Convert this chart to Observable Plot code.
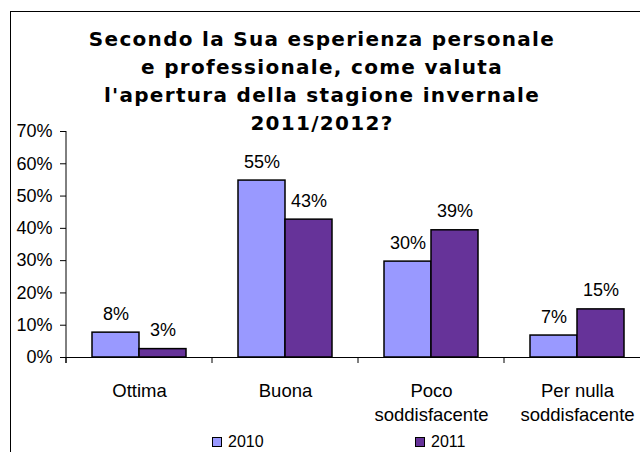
<!DOCTYPE html>
<html><head><meta charset="utf-8">
<script src="https://cdn.jsdelivr.net/npm/d3@7"></script>
<script src="https://cdn.jsdelivr.net/npm/@observablehq/plot@0.6"></script>
<style>
html,body{margin:0;padding:0;background:#fff;overflow:hidden;}
#wrap{position:relative;width:640px;height:452px;overflow:hidden;background:#fff;}
#frame{position:absolute;left:10px;top:11px;width:800px;height:600px;border-top:1.5px solid #000;border-left:1.5px solid #000;pointer-events:none;z-index:3;}
#title{position:absolute;left:0;width:644px;top:25px;text-align:center;font-family:"DejaVu Sans",sans-serif;font-weight:bold;font-size:20px;letter-spacing:1.3px;line-height:28px;color:#000;z-index:2;white-space:pre;}
#chart{position:absolute;left:0;top:0;}
.leg{position:absolute;top:433px;font-family:"Liberation Sans",Arial,sans-serif;font-size:16px;color:#000;display:flex;align-items:center;}
.leg span.sw{display:inline-block;width:8px;height:8px;border:1px solid #000;margin-right:6px;}
</style>
</head><body>
<div id="wrap">
  <div id="frame"></div>
  <div id="title"></div>
  <div id="chart"></div>
</div>
<script>
const titleLines = ["Secondo la Sua esperienza personale", "e professionale, come valuta", "l'apertura della stagione invernale", "2011/2012?"];
const categories = ["Ottima", "Buona", "Poco\nsoddisfacente", "Per nulla\nsoddisfacente"];
const years = ["2010", "2011"];
const values2010 = [0.077, 0.548, 0.297, 0.068];
const values2011 = [0.026, 0.427, 0.394, 0.149];
const yTicks = [0, 0.1, 0.2, 0.3, 0.4, 0.5, 0.6, 0.7];
const colors = ["#9999FF", "#663399"];

document.getElementById("title").textContent = titleLines.join("\n");

const data = [];
categories.forEach((c, i) => {
  data.push({category: c, year: years[0], value: values2010[i]});
  data.push({category: c, year: years[1], value: values2011[i]});
});

const pct = d3.format(".0%");
const font = '"Liberation Sans", Arial, sans-serif';

const plot = Plot.plot({
  width: 640,
  height: 452,
  marginTop: 131,
  marginBottom: 95,
  marginLeft: 66,
  marginRight: -10,
  style: {background: "transparent", fontFamily: font, color: "#000", overflow: "hidden"},
  fx: {domain: categories, paddingInner: 0, paddingOuter: 0, axis: null, label: null},
  x: {domain: years, paddingInner: 0, paddingOuter: 0.553, axis: null, label: null},
  y: {domain: [0, 0.7], axis: null, label: null},
  color: {domain: years, range: colors},
  marks: [
    Plot.barY(data, {fx: "category", x: "year", y: "value", fill: "year", stroke: "#000", strokeWidth: 1.5}),
    Plot.text(data, {fx: "category", x: "year", y: "value", text: d => pct(d.value), lineAnchor: "bottom", dy: -13, fontSize: 18, fill: "#000"}),
    Plot.ruleY([0], {stroke: "#000", strokeWidth: 1}),
    Plot.axisY({ticks: yTicks, tickFormat: pct, tickSize: 6, tickPadding: 8, fontSize: 18, stroke: "#000", strokeOpacity: 1, label: null}),
    Plot.axisFx({anchor: "bottom", tickSize: 0, tickPadding: 22, fontSize: 18.5, lineHeight: 1.3, fill: "#000", label: null})
  ]
});
document.getElementById("chart").appendChild(plot);

// axis line and category separator ticks from the plot's own scales
const fx = plot.scale("fx"), y = plot.scale("y");
const svg = d3.select(plot);
const y0 = y.apply(0), yTop = y.apply(0.7);
const x0 = fx.range[0];
svg.append("line").attr("x1", x0).attr("x2", x0).attr("y1", yTop).attr("y2", y0 + 6).attr("stroke", "#000");
categories.forEach(c => {
  const xb = fx.apply(c);
  svg.append("line").attr("x1", xb).attr("x2", xb).attr("y1", y0).attr("y2", y0 + 6).attr("stroke", "#000");
});

// legend
const legendX = [212, 415];
years.forEach((yr, i) => {
  const d = document.createElement("div");
  d.className = "leg";
  d.style.left = legendX[i] + "px";
  d.innerHTML = `<span class="sw" style="background:${colors[i]}"></span>${yr}`;
  document.getElementById("wrap").appendChild(d);
});
</script>
</body></html>
